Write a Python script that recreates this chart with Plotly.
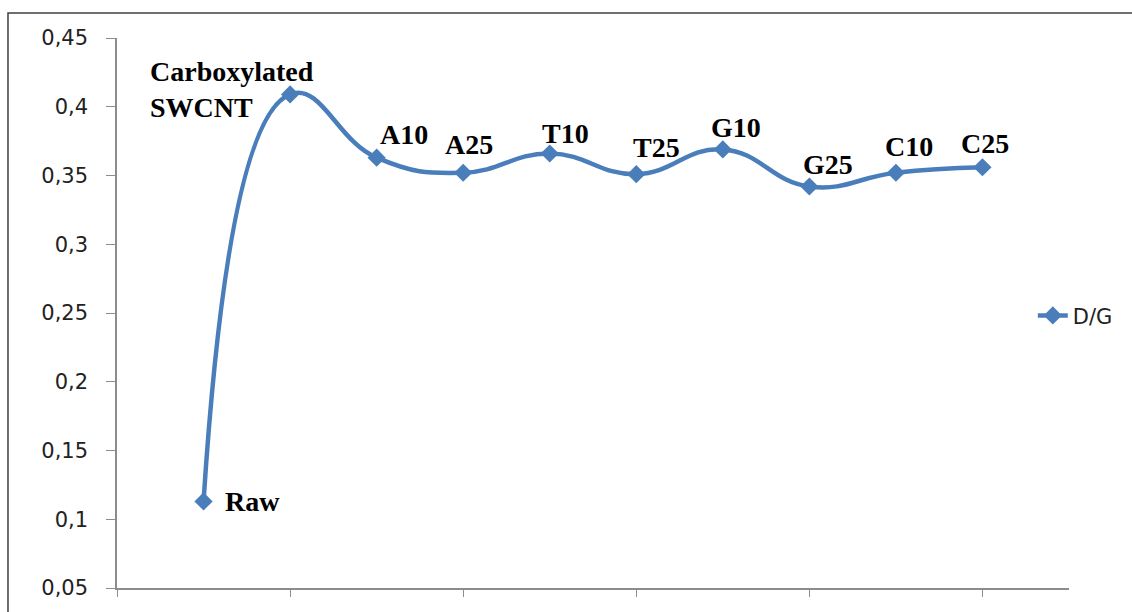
import plotly.graph_objects as go

# ---- data ----
categories = ["Raw", "Carboxylated<br>SWCNT", "A10", "A25", "T10", "T25", "G10", "G25", "C10", "C25"]
positions = [1, 2, 3, 4, 5, 6, 7, 8, 9, 10]
dg_values = [0.113, 0.409, 0.363, 0.352, 0.366, 0.351, 0.369, 0.342, 0.352, 0.356]
y_ticks = [0.05, 0.10, 0.15, 0.20, 0.25, 0.30, 0.35, 0.40, 0.45]
x_ticks = [0, 2, 4, 6, 8, 10]

# label placement (style): anchor, xshift, yshift
label_anchor = ["left", "right", "center", "center", "center", "center", "center", "center", "center", "center"]
label_xshift = [19, 26, 27, 6, 16, 20, 13, 19, 13, 3]
label_yshift = [0, 5, 23, 28, 20, 27, 22, 22, 26, 24]

BLUE = "#4A7EBB"
AXIS = "#8C8C8C"

fig = go.Figure()
fig.add_trace(go.Scatter(
    x=positions, y=dg_values, name="D/G",
    mode="lines+markers",
    line=dict(color=BLUE, width=4.5, shape="spline", smoothing=1.3),
    marker=dict(symbol="diamond", size=14, color=BLUE),
    cliponaxis=False,
))

for xv, yv, t, a, dx, dy in zip(positions, dg_values, categories, label_anchor, label_xshift, label_yshift):
    fig.add_annotation(
        x=xv, y=yv, text="<b>" + t + "</b>", showarrow=False,
        xanchor=a, yanchor="middle", xshift=dx, yshift=dy, align="left",
        font=dict(family="Liberation Serif", size=28, color="#000000"),
    )

# outer chart border
fig.add_shape(type="rect", xref="paper", yref="paper",
              x0=-0.1145, x1=1.3, y0=-0.3, y1=1.0455,
              line=dict(color="#404040", width=1.5), fillcolor="rgba(0,0,0,0)")

fig.update_layout(
    width=1132, height=612,
    margin=dict(l=117, r=63, t=38, b=24),
    paper_bgcolor="white", plot_bgcolor="white",
    separators=", ",
    showlegend=True,
    legend=dict(x=0.962, y=0.495, xanchor="left", yanchor="middle",
                font=dict(family="DejaVu Sans", size=21, color="#222222"),
                bgcolor="rgba(0,0,0,0)"),
    font=dict(family="DejaVu Sans", size=21, color="#222222"),
)
fig.update_xaxes(range=[0, 11], tickmode="array", tickvals=x_ticks, showticklabels=False,
                 ticks="outside", ticklen=7, tickcolor=AXIS, showline=True, linecolor=AXIS,
                 linewidth=1.5, showgrid=False, zeroline=False)
fig.update_yaxes(range=[0.05, 0.45], tickmode="array", tickvals=y_ticks, tickformat=".2~f",
                 ticks="outside", ticklen=9, tickcolor=AXIS, showline=True, linecolor=AXIS,
                 linewidth=1.5, showgrid=False, zeroline=False, ticklabelstandoff=14,
                 tickfont=dict(family="DejaVu Sans", size=21, color="#222222"))

fig.write_html("out.html")
